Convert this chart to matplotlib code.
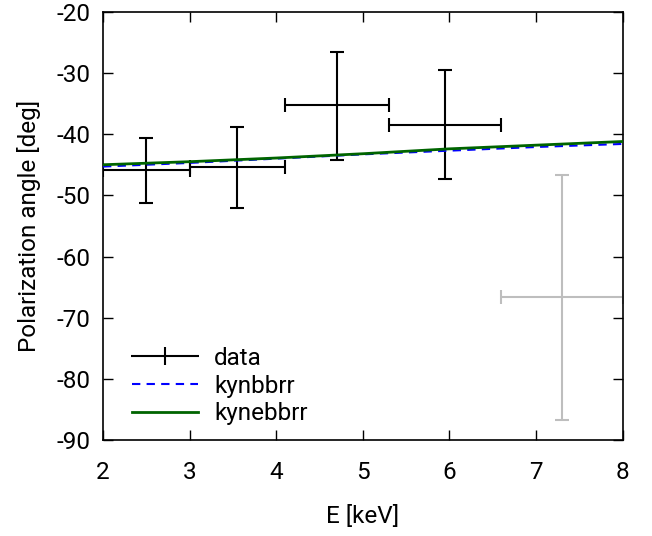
import matplotlib
matplotlib.use('Agg')
import matplotlib.pyplot as plt
from matplotlib.legend_handler import HandlerErrorbar
import numpy as np

plt.rcParams['font.family'] = ['Roboto', 'DejaVu Sans']
plt.rcParams['axes.unicode_minus'] = False

# measured points (black) and the grey one
e_lo = [2.0, 3.0, 4.1, 5.3]
e_hi = [3.0, 4.1, 5.3, 6.6]
e_mid = [2.5, 3.55, 4.7, 5.95]
pa = [-45.8, -45.4, -35.2, -38.5]
pa_top = [-40.6, -38.8, -26.5, -29.5]
pa_bot = [-51.2, -52.1, -44.2, -47.3]

grey_lo, grey_hi, grey_mid = 6.6, 8.0, 7.3
grey_pa, grey_top, grey_bot = -66.6, -46.7, -86.7

# model curves
model_e = [2, 3, 4, 5, 6, 7, 8]
kynbbrr = [-45.3, -44.7, -44.0, -43.3, -42.7, -42.1, -41.6]
kynebbrr = [-45.0, -44.5, -43.9, -43.2, -42.4, -41.8, -41.2]

fs = 17.5

fig = plt.figure(figsize=(6.52, 5.36), dpi=100)
ax = fig.add_axes([0.158, 0.179, 0.797, 0.799])

xerr = [np.array(e_mid) - np.array(e_lo), np.array(e_hi) - np.array(e_mid)]
yerr = [np.array(pa) - np.array(pa_bot), np.array(pa_top) - np.array(pa)]
ax.errorbar(e_mid, pa, xerr=xerr, yerr=yerr, fmt='none', ecolor='black',
            elinewidth=1.5, capsize=5, capthick=1.5, zorder=3)
ax.errorbar([grey_mid], [grey_pa],
            xerr=[[grey_mid - grey_lo], [grey_hi - grey_mid]],
            yerr=[[grey_pa - grey_bot], [grey_top - grey_pa]],
            fmt='none', ecolor='#bebebe', elinewidth=1.5, capsize=5,
            capthick=1.5, zorder=2)

# legend proxy for the data: horizontal bar with caps and a centre tick
data_h = ax.errorbar([], [], xerr=[], fmt='|', color='black', ms=13, mew=1.5,
                     elinewidth=1.5, capsize=6, capthick=1.5)

l1, = ax.plot(model_e, kynbbrr, color='blue', linestyle=(0, (4, 3)), lw=1.5,
              zorder=4)
l2, = ax.plot(model_e, kynebbrr, color='#006400', lw=2, zorder=5)

ax.set_xlim(2, 8)
ax.set_ylim(-90, -20)
ax.set_xticks(range(2, 9))
ax.set_yticks(range(-90, -19, 10))
ax.tick_params(direction='in', length=7, width=1, labelsize=fs,
               top=True, right=True)
ax.tick_params(axis='x', pad=15)
ax.tick_params(axis='y', pad=9)
for s in ax.spines.values():
    s.set_linewidth(1.2)

ax.set_xlabel('E [keV]', fontsize=fs, labelpad=15)
ax.set_ylabel('Polarization angle [deg]', fontsize=fs, labelpad=11)

ax.legend([data_h, l1, l2], ['data', 'kynbbrr', 'kynebbrr'],
          handler_map={type(data_h): HandlerErrorbar(xerr_size=1.4)},
          loc='upper left', bbox_to_anchor=(0.055, 0.218), frameon=False,
          fontsize=fs, handlelength=2.75, handletextpad=0.65,
          labelspacing=0.2, borderaxespad=0, borderpad=0)

fig.savefig('out.png', dpi=100)
